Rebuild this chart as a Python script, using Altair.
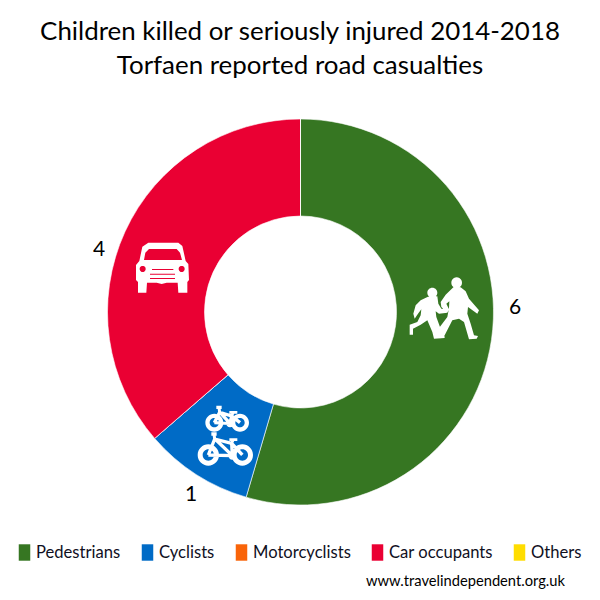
import altair as alt
import pandas as pd

categories = ["Pedestrians", "Cyclists", "Motorcyclists", "Car occupants", "Others"]
casualties = [6, 1, 0, 4, 0]
colours = ["#367622", "#006BC6", "#F96409", "#EA0033", "#FFDD00"]
title_lines = ["Children killed or seriously injured 2014-2018", "Torfaen reported road casualties"]
site = "www.travelindependent.org.uk"

TOP = 100
def px(x): return x - 8
def py(y): return y - 8 - TOP


def area(p):
    return sum(p[i][0] * p[(i + 1) % len(p)][1] - p[(i + 1) % len(p)][0] * p[i][1] for i in range(len(p)))


class Icon:
    """Icon outline drawn in 3x crop pixels, converted to the unit square of a symbol."""
    def __init__(self, cx, cy, half):
        self.cx, self.cy, self.half = cx, cy, half
        self.parts = []

    def u(self, x, y):
        return (x - self.cx) / (3 * self.half), (y - self.cy) / (3 * self.half)

    def poly(self, pts, hole=False):
        if (area(pts) < 0) != hole:
            pts = pts[::-1]
        self.parts.append("M" + "L".join("%.4f,%.4f" % self.u(*p) for p in pts) + "Z")

    def circle(self, x, y, r, hole=False):
        ux, uy = self.u(x, y)
        ur = r / (3 * self.half)
        sweep = 0 if hole else 1
        self.parts.append(
            "M%.4f,%.4fA%.4f,%.4f 0 1 %d %.4f,%.4fA%.4f,%.4f 0 1 %d %.4f,%.4fZ"
            % (ux - ur, uy, ur, ur, sweep, ux + ur, uy, ur, ur, sweep, ux - ur, uy)
        )

    def line(self, pts, w):
        for (a, b), (c, d) in zip(pts, pts[1:]):
            dx, dy = c - a, d - b
            n = (dx * dx + dy * dy) ** 0.5
            ox, oy = -dy / n * w / 2, dx / n * w / 2
            self.poly([(a + ox, b + oy), (c + ox, d + oy), (c - ox, d - oy), (a - ox, b - oy)])

    def path(self):
        return "".join(self.parts)


HALF = 32

car = Icon(127, 113, HALF)
car.poly([(85, 38), (175, 38), (187, 48), (197, 93), (205, 102), (207, 150), (202, 156), (202, 188),
          (175, 188), (173, 158), (140, 158), (125, 162), (110, 158), (81, 158), (79, 188), (54, 188),
          (54, 156), (48, 150), (48, 105), (58, 93), (67, 50)])
car.poly([(87, 57), (170, 57), (180, 68), (186, 90), (72, 90), (76, 68)], hole=True)
car.circle(68, 117, 9, hole=True)
car.circle(185, 117, 9, hole=True)
car.poly([(96, 117), (160, 117), (160, 120), (96, 120)], hole=True)
car.poly([(90, 131), (165, 131), (165, 134), (90, 134)], hole=True)
car.poly([(90, 144), (165, 144), (165, 147), (90, 147)], hole=True)

people = Icon(120, 105, HALF)
people.circle(158, 32, 16)
people.poly([(148, 46), (170, 46), (185, 58), (195, 80), (225, 115), (220, 125), (192, 105), (190, 125),
             (200, 155), (210, 190), (222, 192), (218, 200), (195, 202), (180, 150), (165, 140), (145, 145),
             (122, 190), (108, 200), (100, 175), (130, 135), (135, 108), (136, 88), (127, 95), (135, 112),
             (130, 122), (112, 105), (110, 90), (125, 68)])
people.circle(85, 62, 15)
people.poly([(72, 74), (100, 73), (103, 95), (112, 110), (130, 112), (130, 122), (105, 125), (95, 118),
             (97, 135), (108, 165), (120, 180), (122, 198), (90, 200), (85, 180), (70, 145), (50, 158),
             (27, 170), (27, 188), (17, 188), (17, 158), (40, 150), (50, 130), (52, 112), (42, 125),
             (32, 140), (28, 125), (35, 100), (50, 85)])

bikes = Icon(320, 617, HALF)
for (lx, rx, wy, r, ri, sx, sy, hx, hy) in [
    (283, 360, 578, 27, 14, 295, 532, 340, 550),
    (265, 367, 675, 32, 17, 280, 612, 340, 632),
]:
    bikes.circle(lx, wy, r)
    bikes.circle(lx, wy, ri, hole=True)
    bikes.circle(rx, wy, r)
    bikes.circle(rx, wy, ri, hole=True)
    bikes.line([(lx, wy), (sx + 4, sy + 15), (hx - 5, hy + 8), (rx, wy)], 10)
    bikes.line([(sx + 2, sy + 12), (rx - 30, wy + 2), (lx, wy)], 10)
    bikes.line([(rx - 30, wy + 2), (hx - 5, hy + 8)], 10)
    bikes.circle(rx - 30, wy + 2, 12)
    bikes.line([(sx - 6, sy), (sx + 10, sy)], 10)
    bikes.line([(sx + 2, sy), (sx + 4, sy + 15)], 9)
    bikes.line([(hx - 12, hy - 3), (hx + 12, hy - 3)], 8)
    bikes.line([(hx, hy - 3), (hx - 5, hy + 8)], 8)

df = pd.DataFrame({"category": categories, "value": casualties, "rank": range(len(categories))})
one = pd.DataFrame({"a": [0]})

arcs = alt.Chart(df).mark_arc(innerRadius=96, outerRadius=193, stroke="white", strokeWidth=0.6).encode(
    x=alt.value(px(300.5)),
    y=alt.value(py(312)),
    theta=alt.Theta("value:Q", stack=True, scale=alt.Scale(domain=[0, sum(casualties)])),
    order=alt.Order("rank:Q"),
    color=alt.Color(
        "category:N",
        sort=categories,
        scale=alt.Scale(domain=categories, range=colours),
        legend=alt.Legend(
            title=None, orient="none", direction="horizontal", columns=5, gridAlign="none",
            legendX=px(16), legendY=py(544),
            symbolType="M-0.7,-1H0.7V1H-0.7Z", symbolSize=270, symbolStrokeWidth=0,
            symbolOpacity=1, labelFont="Lato", labelFontSize=16.6, labelColor="#10101e",
            labelOffset=3, columnPadding=18, labelLimit=200,
        ),
    ),
)


def icon(ic, x, y):
    return alt.Chart(one).mark_point(
        shape=ic.path(), filled=True, size=(2 * HALF) ** 2, color="white", opacity=1, strokeWidth=0
    ).encode(x=alt.value(px(x)), y=alt.value(py(y)))


def label(text, x, y, size, align="center"):
    return alt.Chart(pd.DataFrame({"t": [text]})).mark_text(
        font="Lato", fontSize=size, color="#000000", align=align, baseline="alphabetic"
    ).encode(x=alt.value(px(x)), y=alt.value(py(y)), text="t:N")


labels = [
    label(str(casualties[0]), 515, 314, 21),
    label(str(casualties[1]), 191, 501, 21),
    label(str(casualties[3]), 99, 256, 21),
    label(site, 366, 586, 14.7, align="left"),
]

chart = alt.layer(
    arcs,
    icon(car, 120 + 127 / 3, 230 + 113 / 3),
    icon(people, 404 + 120 / 3, 272 + 105 / 3),
    icon(bikes, 120 + 320 / 3, 230 + 617 / 3),
    *labels,
).properties(
    width=584,
    height=584 - TOP,
    padding={"left": 0, "top": TOP, "right": 0, "bottom": 0},
    autosize=alt.AutoSizeParams(type="none"),
    title=alt.TitleParams(
        text=title_lines, font="Lato", fontSize=25.9, fontWeight="normal", color="#000000",
        anchor="middle", lineHeight=34, offset=28,
    ),
).configure_view(stroke=None)

chart.save("out.html", embed_options={"renderer": "svg", "actions": False})
